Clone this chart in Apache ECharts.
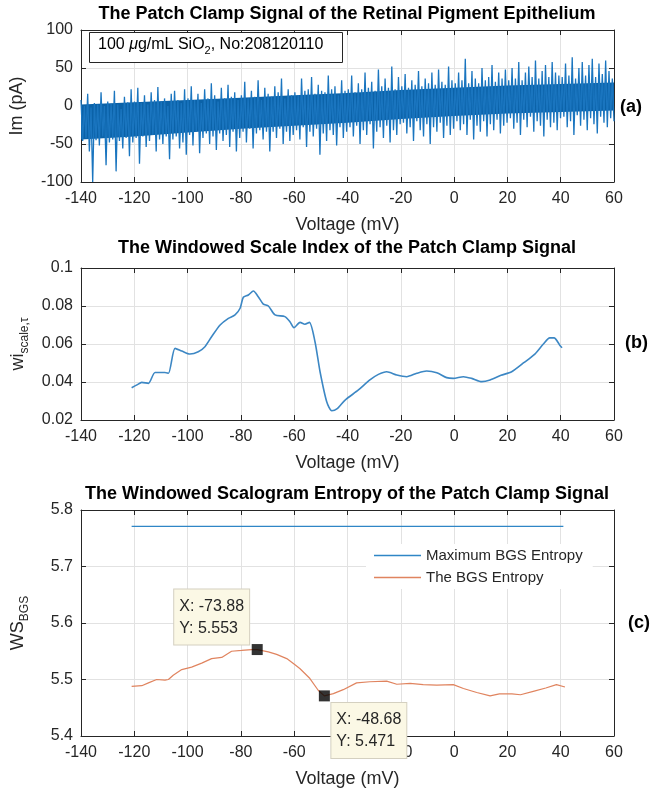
<!DOCTYPE html>
<html>
<head>
<meta charset="utf-8">
<script src="https://cdn.jsdelivr.net/npm/echarts@6/dist/echarts.min.js"></script>
<style>
html, body { margin: 0; padding: 0; background: #fff; }
#main { width: 662px; height: 793px; }
</style>
</head>
<body>
<div id="main"></div>
<script>
// (a) patch clamp current (pA), samples evenly spaced from imStart to imEnd (mV)
const imStart = -140
const imEnd = 60
const imValues = [
  8, -46, 0, -42, 16, -60, -2, -100, 4, -45, 2, -52, 18, -40, 0, -78, 6, -48, 3, -44, 20, -86, 2, -46, -4, -56, 12, -42, 5, -66, 22, -48,
  6, -42, 24, -76, 4, -40, 14, -54, 2, -46, 18, -38, 8, -60, 25, -44, 6, -50, 10, -40, 0, -70, 16, -44, 20, -40, 8, -56, 4, -48, 22, -64,
  10, -38, 26, -52, 8, -34, 16, -62, 4, -42, 22, -36, 10, -50, 30, -40, 14, -58, 6, -36, 24, -46, 10, -38, 28, -54, 12, -34, 18, -60, 8, -42,
  14, -34, 32, -48, 10, -30, 20, -56, 12, -36, 34, -32, 8, -44, 24, -34, 16, -60, 12, -34, 26, -42, 18, -30, 36, -50, 10, -34, 22, -46, 14, -38,
  18, -32, 14, -44, 36, -28, 20, -54, 22, -34, 38, -40, 16, -30, 28, -64, 20, -36, 18, -46, 40, -32, 22, -38, 26, -52, 14, -28, 34, -42, 20, -34,
  22, -28, 40, -40, 18, -26, 30, -50, 22, -32, 44, -38, 24, -24, 32, -56, 20, -34, 48, -28, 26, -42, 36, -26, 24, -48, 52, -32, 22, -38, 38, -24,
  26, -22, 42, -36, 24, -28, 34, -46, 28, -20, 46, -32, 26, -40, 36, -24, 30, -50, 44, -28, 28, -34, 48, -22, 32, -42, 28, -26, 52, -38, 34, -30,
  30, -20, 44, -32, 34, -24, 62, -38, 30, -18, 46, -44, 36, -26, 30, -34, 50, -20, 34, -40, 38, -24, 54, -32, 32, -18, 44, -36, 36, -26, 48, -22,
  34, -16, 50, -30, 36, -22, 58, -38, 34, -18, 44, -28, 52, -14, 38, -34, 60, -20, 36, -26, 46, -40, 54, -18, 38, -28, 58, -22, 44, -32, 40, -16,
  38, -14, 56, -28, 40, -20, 64, -38, 36, -12, 50, -26, 58, -18, 40, -32, 54, -16, 62, -24, 38, -36, 56, -14, 42, -22, 60, -28, 46, -16, 36, -20
]
// dense core of the signal (where the trace overlaps into a solid band)
const coreVoltage = [-140, -120, -100, -80, -60, -40, -20, 0, 20, 40, 60]
const coreLow = [-44, -40, -35, -30, -26, -22, -17, -13, -10, -8, -6]
const coreHigh = [2, 5, 8, 11, 14, 17, 21, 24, 27, 29, 31]

// (b) windowed scale index
const wiVoltage = [-121, -119, -117.2, -114.7, -112.2, -108.5, -107.2, -104.7, -102.2, -99.1, -96, -93.5, -91, -87.8, -84.7, -82.2, -80.3, -79.1, -77.2, -75.3,
  -73.5, -71.6, -69.7, -67.2, -63.5, -61.6, -60.1, -57.8, -56, -54.3, -52.2, -50.3, -47.8, -45.9, -44, -40.9, -35.9, -31.6, -28.4, -25.3,
  -21.5, -17.8, -14, -10.3, -6.5, -2.8, -0.3, 3.5, 6.6, 10.4, 13.5, 17.6, 21.6, 26.3, 30.3, 33.5, 35.9, 37.5, 39.8, 40.5]
const wiValues = [0.037, 0.0385, 0.0398, 0.0393, 0.045, 0.045, 0.0446, 0.0577, 0.0563, 0.0547, 0.0559, 0.0586, 0.0638, 0.070, 0.0735, 0.0753, 0.0788, 0.0846, 0.0858, 0.0879,
  0.0849, 0.081, 0.080, 0.0753, 0.0744, 0.0717, 0.0686, 0.0714, 0.0704, 0.0714, 0.0612, 0.0454, 0.0296, 0.0249, 0.0258, 0.0305, 0.0358, 0.0411, 0.044, 0.0454,
  0.0437, 0.0428, 0.0446, 0.0458, 0.0449, 0.0423, 0.0419, 0.0428, 0.0419, 0.0402, 0.0411, 0.0435, 0.0454, 0.0503, 0.0547, 0.06, 0.0632, 0.0632, 0.0591, 0.058]

// (c) windowed scalogram entropy
const bgsVoltage = [-121, -117.2, -114.7, -111.6, -108.5, -107.2, -105.4, -102.2, -98.5, -94.7, -91, -87.2, -83.5, -79.7, -76, -73.88, -69.7, -66.6, -62.8, -59.7,
  -57.8, -54.1, -51, -48.68, -45.3, -41.6, -36.6, -31.6, -25.3, -21.5, -16.5, -11.6, -6.5, -0.3, 3.5, 8.5, 13.5, 17, 21.7, 24.9, 29.7, 34.4, 38.4, 41.6]
const bgsValues = [5.488, 5.489, 5.494, 5.5, 5.499, 5.5, 5.5075, 5.5175, 5.522, 5.529, 5.537, 5.539, 5.55, 5.5515, 5.553, 5.553, 5.549, 5.5445, 5.537, 5.526,
  5.519, 5.5017, 5.481, 5.471, 5.475, 5.482, 5.494, 5.496, 5.497, 5.4916, 5.493, 5.491, 5.49, 5.491, 5.484, 5.477, 5.471, 5.4745, 5.4745, 5.473, 5.479, 5.485, 5.491, 5.4867]
const maxVoltage = [-121, 41]
const maxValues = [5.771, 5.771]

// data tips
const tipX = [-73.88, -48.68]
const tipY = [5.553, 5.471]

const FONT = '"Liberation Sans", Arial, sans-serif'
const INK = '#262626'
const GRIDC = '#e2e2e2'

const chart = echarts.init(document.getElementById('main'), null, { renderer: 'canvas' })

const grids = [
  { left: 81, top: 30, width: 533, height: 152 },
  { left: 81, top: 268, width: 533, height: 152 },
  { left: 81, top: 510, width: 533, height: 226 }
]
const yRanges = [[-100, 100, 50], [0.02, 0.1, 0.02], [5.4, 5.8, 0.1]]
const yNames = ['Im (pA)', '{m|wi}{s|scale,τ}', '{m|WS}{s|BGS}']
const yGaps = [55, 48, 50]

const xAxes = []
const yAxes = []
grids.forEach((g, i) => {
  const common = {
    gridIndex: i, z: 0,
    axisLine: { show: true, onZero: false, lineStyle: { color: INK, width: 1 } },
    axisTick: { show: true, inside: true, length: 5, lineStyle: { color: INK } }
  }
  xAxes.push(Object.assign({}, common, {
    type: 'value', position: 'bottom', min: -140, max: 60, interval: 20,
    splitLine: { show: true, lineStyle: { color: GRIDC } },
    axisLabel: { color: INK, fontFamily: FONT, fontSize: 16, margin: 9 },
    name: 'Voltage (mV)', nameLocation: 'middle', nameGap: 34,
    nameTextStyle: { color: INK, fontFamily: FONT, fontSize: 18 }
  }))
  xAxes.push(Object.assign({}, common, {
    type: 'value', position: 'top', min: -140, max: 60, interval: 20,
    splitLine: { show: false }, axisLabel: { show: false }
  }))
  yAxes.push(Object.assign({}, common, {
    type: 'value', position: 'left', min: yRanges[i][0], max: yRanges[i][1], interval: yRanges[i][2],
    splitLine: { show: true, lineStyle: { color: GRIDC } },
    axisLabel: { color: INK, fontFamily: FONT, fontSize: 16, margin: 8 },
    name: yNames[i], nameLocation: 'middle', nameGap: yGaps[i],
    nameTextStyle: {
      color: INK, fontFamily: FONT, fontSize: 18,
      rich: {
        m: { color: INK, fontFamily: FONT, fontSize: 18, lineHeight: 26, verticalAlign: 'middle' },
        s: { color: INK, fontFamily: FONT, fontSize: 12, lineHeight: 26, verticalAlign: 'bottom' }
      }
    }
  }))
  yAxes.push(Object.assign({}, common, {
    type: 'value', position: 'right', min: yRanges[i][0], max: yRanges[i][1], interval: yRanges[i][2],
    splitLine: { show: false }, axisLabel: { show: false }
  }))
})

const imStep = (imEnd - imStart) / (imValues.length - 1)
const imData = imValues.map((v, i) => [imStart + i * imStep, v])
const zip = (xs, ys) => xs.map((x, i) => [x, ys[i]])

const titleStyle = { color: '#000', fontFamily: FONT, fontSize: 18, fontWeight: 'bold' }

const option = {
  animation: false,
  backgroundColor: '#fff',
  title: [
    { text: 'The Patch Clamp Signal of the Retinal Pigment Epithelium', left: 347, top: 5, textAlign: 'center', textStyle: titleStyle, padding: 0 },
    { text: 'The Windowed Scale Index of the Patch Clamp Signal', left: 347, top: 239, textAlign: 'center', textStyle: titleStyle, padding: 0 },
    { text: 'The Windowed Scalogram Entropy of the Patch Clamp Signal', left: 347, top: 485, textAlign: 'center', textStyle: titleStyle, padding: 0 }
  ],
  grid: grids,
  xAxis: xAxes,
  yAxis: yAxes,
  legend: {
    data: ['Maximum BGS Entropy', 'The BGS Entropy'],
    orient: 'vertical', left: 366, top: 544,
    icon: 'rect', itemWidth: 47, itemHeight: 1.5, itemGap: 7,
    backgroundColor: '#fff', padding: [4, 10, 4, 8],
    textStyle: { color: INK, fontFamily: FONT, fontSize: 15 }
  },
  graphic: [
    {
      type: 'rect', left: 89, top: 32, z: 10,
      shape: { width: 253, height: 30 },
      style: { fill: '#fff', stroke: INK, lineWidth: 1 }
    },
    {
      type: 'text', left: 98, top: 37, z: 11,
      style: {
        text: '{n|100 }{i|μ}{n|g/mL SiO}{s|2}{n|, No:208120110}',
        rich: {
          n: { fontFamily: FONT, fontSize: 16, fill: '#000', lineHeight: 22, verticalAlign: 'middle' },
          i: { fontFamily: FONT, fontSize: 16, fontStyle: 'italic', fill: '#000', lineHeight: 22, verticalAlign: 'middle' },
          s: { fontFamily: FONT, fontSize: 11, fill: '#000', lineHeight: 22, verticalAlign: 'bottom' }
        }
      }
    },
    { type: 'text', left: 620, top: 98, style: { text: '(a)', fontFamily: FONT, fontSize: 18, fontWeight: 'bold', fill: '#000' } },
    { type: 'text', left: 625, top: 334, style: { text: '(b)', fontFamily: FONT, fontSize: 18, fontWeight: 'bold', fill: '#000' } },
    { type: 'text', left: 628, top: 614, style: { text: '(c)', fontFamily: FONT, fontSize: 18, fontWeight: 'bold', fill: '#000' } }
  ],
  series: [
    {
      type: 'custom', xAxisIndex: 0, yAxisIndex: 0, silent: true,
      data: coreVoltage.map((v, i) => [v, coreLow[i], coreHigh[i]]),
      encode: { x: 0, y: [1, 2] },
      renderItem: (params, api) => {
        if (params.dataIndex !== 0) return null
        const pts = []
        coreVoltage.forEach((v, i) => pts.push(api.coord([v, coreHigh[i]])))
        for (let i = coreVoltage.length - 1; i >= 0; i--) pts.push(api.coord([coreVoltage[i], coreLow[i]]))
        return { type: 'polygon', shape: { points: pts }, style: { fill: '#0b62a8' } }
      }
    },
    {
      type: 'line', xAxisIndex: 0, yAxisIndex: 0, data: imData,
      showSymbol: false, lineStyle: { color: '#1a75bf', width: 1.3 }
    },
    {
      type: 'line', xAxisIndex: 2, yAxisIndex: 2, data: zip(wiVoltage, wiValues),
      showSymbol: false, smooth: 0.25, lineStyle: { color: '#3c87c4', width: 1.6 }
    },
    {
      name: 'Maximum BGS Entropy', type: 'line', xAxisIndex: 4, yAxisIndex: 4, data: zip(maxVoltage, maxValues),
      showSymbol: false, color: '#2f86c6', lineStyle: { color: '#2f86c6', width: 1.3 }
    },
    {
      name: 'The BGS Entropy', type: 'line', xAxisIndex: 4, yAxisIndex: 4, data: zip(bgsVoltage, bgsValues),
      showSymbol: false, color: '#e0845f', lineStyle: { color: '#e0845f', width: 1.2 }
    },
    {
      type: 'scatter', xAxisIndex: 4, yAxisIndex: 4, z: 20,
      symbol: 'rect', symbolSize: 11,
      itemStyle: { color: '#000' },
      data: zip(tipX, tipY)
    }
  ]
}

chart.setOption(option)

// data-tip boxes, anchored to the marked points through the axis scales
const tipShift = [[-83, -60], [7, 7]]
const tipBoxes = tipX.map((x, i) => {
  const p = chart.convertToPixel({ xAxisIndex: 4, yAxisIndex: 4 }, [x, tipY[i]])
  return {
    type: 'text', x: p[0] + tipShift[i][0], y: p[1] + tipShift[i][1], z: 100, zlevel: 1,
    style: {
      text: 'X: ' + x + '\nY: ' + tipY[i],
      fontFamily: FONT, fontSize: 16, lineHeight: 22, fill: INK,
      backgroundColor: '#fbf8e5', borderColor: '#d4d0c0', borderWidth: 1,
      padding: [6, 5, 5, 5]
    }
  }
})
chart.setOption({ graphic: option.graphic.concat(tipBoxes) })
</script>
</body>
</html>
